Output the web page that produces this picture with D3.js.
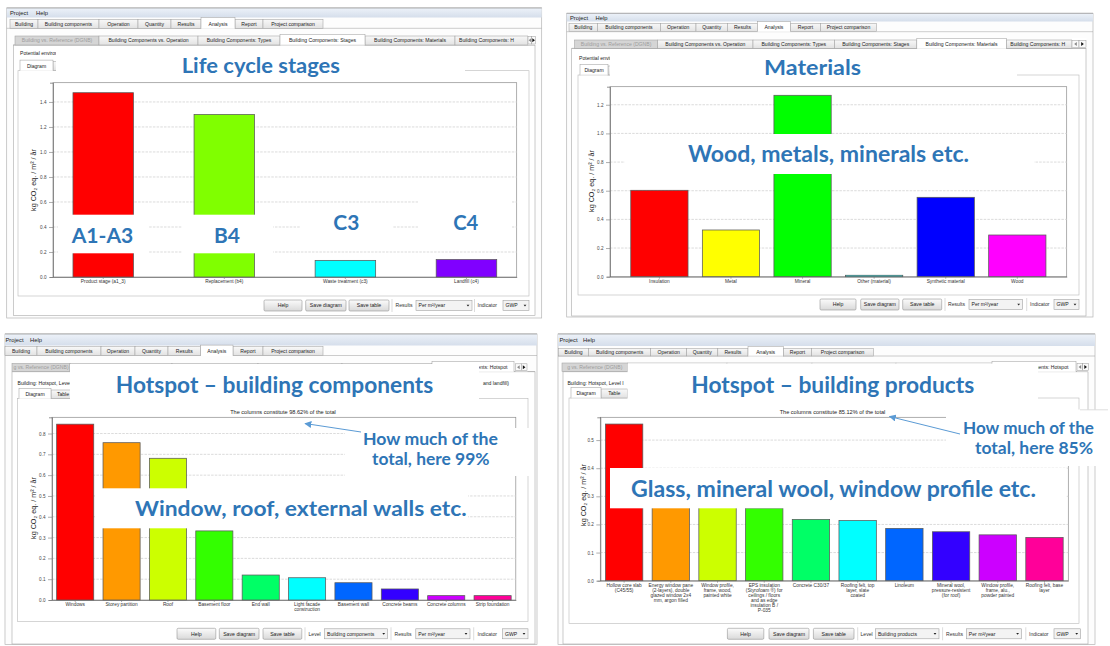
<!DOCTYPE html>
<html><head><meta charset="utf-8">
<script src="https://cdn.jsdelivr.net/npm/d3@7"></script>
<style>body{margin:0;background:#fff}svg{display:block}</style>
</head><body>
<script>
// ---------------- DATA ----------------
const stageLabels = ["Product stage (a1_3)", "Replacement (b4)", "Waste treatment (c3)", "Landfill (c4)"];
const stageValues = [1.474, 1.300, 0.133, 0.140];
const stageTicks = [0, 0.2, 0.4, 0.6, 0.8, 1.0, 1.2, 1.4];
const stageAxisMax = 1.554;

const materialLabels = ["Insulation", "Metal", "Mineral", "Other (material)", "Synthetic material", "Wood"];
const materialValues = [0.603, 0.326, 1.266, 0.010, 0.554, 0.291];
const materialTicks = [0, 0.2, 0.4, 0.6, 0.8, 1.0, 1.2];
const materialAxisMax = 1.326;

const componentLabels = ["Windows", "Storey partition", "Roof", "Basement floor", "End wall", "Light facade\nconstruction", "Basement wall", "Concrete beams", "Concrete columns", "Strip foundation"];
const componentValues = [0.845, 0.756, 0.681, 0.332, 0.120, 0.107, 0.083, 0.053, 0.021, 0.021];
const componentTicks = [0, 0.1, 0.2, 0.3, 0.4, 0.5, 0.6, 0.7, 0.8];
const componentAxisMax = 0.878;
const componentShare = "98.62%";

const productLabels = ["Hollow core slab\n(C45/55)", "Energy window pane\n(2-layers), double\nglazed window 2x4\nmm, argon filled", "Window profile,\nframe, wood,\npainted white", "EPS insulation\n(Styrofoam ®) for\nceilings / floors\nand as edge\ninsulation B /\nP-035", "Concrete C30/37", "Roofing felt, top\nlayer, slate\ncoated", "Linoleum", "Mineral wool,\npressure-resistent\n(for roof)", "Window profile,\nframe, alu.,\npowder painted", "Roofing felt, base\nlayer"];
const productValues = [0.557, 0.310, 0.280, 0.258, 0.218, 0.214, 0.186, 0.174, 0.163, 0.154];
const productTicks = [0, 0.1, 0.2, 0.3, 0.4, 0.5];
const productAxisMax = 0.581;
const productShare = "85.12%";

const mainTabs = ["Building", "Building components", "Operation", "Quantity", "Results", "Analysis", "Report", "Project comparison"];
const analysisTabsFull = ["Building vs. Reference (DGNB)", "Building Components vs. Operation", "Building Components: Types", "Building Components: Stages", "Building Components: Materials", "Building Components: H"];
const analysisTabsScrolled = ["g vs. Reference (DGNB)", "Building Components vs. Operation", "Building Components: Types", "Building Components: Stages", "Building Components: Materials", "Building Components: Hotspot"];
const yTitle = "kg CO₂ eq. / m² / år";

// ---------------- SETUP ----------------
const UI = "'Liberation Sans', Arial, sans-serif";
const OV = "Lato, 'Open Sans', sans-serif";
const BLUE = "#2E75B6";
const svg = d3.select("body").append("svg").attr("width", 1110).attr("height", 646).attr("viewBox", "0 0 1110 646");
const defs = svg.append("defs");
function lg(id, stops) {
  const g = defs.append("linearGradient").attr("id", id).attr("x1", 0).attr("y1", 0).attr("x2", 0).attr("y2", 1);
  stops.forEach(([o, c]) => g.append("stop").attr("offset", o).attr("stop-color", c));
}
lg("menuG", [[0, "#edf2f9"], [1, "#d5deeb"]]);
lg("tabG", [[0, "#f8f8f8"], [1, "#e2e2e2"]]);
lg("btnG", [[0, "#fbfbfb"], [1, "#d9d9d9"]]);
defs.append("marker").attr("id", "arr").attr("viewBox", "0 0 10 10").attr("refX", 9).attr("refY", 5)
  .attr("markerWidth", 7).attr("markerHeight", 7).attr("orient", "auto-start-reverse").attr("markerUnits", "userSpaceOnUse")
  .append("path").attr("d", "M0,0L10,5L0,10z").attr("fill", "#5B9BD5");

function txt(g, x, y, s, o = {}) {
  return g.append("text").attr("x", x).attr("y", y).text(s)
    .attr("font-family", o.ff || UI).attr("font-size", o.fs || 5.2)
    .attr("fill", o.fill || "#222").attr("text-anchor", o.anchor || "start");
}

function tabRow(g, edges, labels, y0, y1, active, disabled, fs, startIdx) {
  const order = labels.map((l, i) => i).filter(i => i !== active).concat(active >= 0 ? [active] : []);
  order.forEach(i => {
    const a = i === active, d = i === disabled;
    const x0 = edges[i], x1 = edges[i + 1];
    const t0 = a ? y0 - 1.6 : y0;
    g.append("rect").attr("x", x0).attr("y", t0).attr("width", x1 - x0).attr("height", y1 - t0)
      .attr("fill", a ? "#fff" : d ? "#d5d5d5" : "url(#tabG)").attr("stroke", "#a3a3a3").attr("stroke-width", 0.55);
    if (a) g.append("line").attr("x1", x0 + 0.3).attr("x2", x1 - 0.3).attr("y1", y1).attr("y2", y1).attr("stroke", "#fff").attr("stroke-width", 1);
    const st = i === startIdx;
    txt(g, st ? x0 + 4 : (x0 + x1) / 2, (y0 + y1) / 2 + 1.9, labels[i], { anchor: st ? "start" : "middle", fill: d ? "#9c9c9c" : "#222", fs: fs || 5.2 });
  });
}

function chrome(g, c, id) {
  g.append("rect").attr("x", c.winL).attr("y", c.winT).attr("width", c.winR - c.winL).attr("height", c.winB - c.winT)
    .attr("fill", "#fdfdfd").attr("stroke", "#b4b4b4").attr("stroke-width", 0.7);
  g.append("rect").attr("x", c.winL).attr("y", c.winT).attr("width", c.winR - c.winL).attr("height", c.menuB - c.winT)
    .attr("fill", "url(#menuG)");
  g.append("line").attr("x1", c.winL).attr("x2", c.winR).attr("y1", c.winT).attr("y2", c.winT).attr("stroke", "#8f8f8f").attr("stroke-width", 0.7);
  txt(g, c.projX, c.menuBase, "Project", { fs: 5.8 });
  txt(g, c.helpX, c.menuBase, "Help", { fs: 5.8 });
  g.append("line").attr("x1", c.winL).attr("x2", c.winR).attr("y1", c.r1[1]).attr("y2", c.r1[1]).attr("stroke", "#a3a3a3").attr("stroke-width", 0.55);
  tabRow(g, c.r1Edges, mainTabs, c.r1[0], c.r1[1], 5, -1, 5.1, -1);
  g.append("rect").attr("x", c.tw[0]).attr("y", c.tw[1]).attr("width", c.tw[2] - c.tw[0]).attr("height", c.tw[3] - c.tw[1])
    .attr("fill", "#fff").attr("stroke", "#a9a9a9").attr("stroke-width", 0.6);
  g.append("line").attr("x1", c.tw[0]).attr("x2", c.tw[2]).attr("y1", c.r2[1]).attr("y2", c.r2[1]).attr("stroke", "#a3a3a3").attr("stroke-width", 0.55);
  tabRow(g, c.r2Edges, c.r2Labels, c.r2[0], c.r2[1], c.r2Active, 0, 5.1, c.r2Start);
  // scroll arrows
  const ay0 = c.r2[0] + 0.5, ah = c.r2[1] - c.r2[0] - 1.5, aw = (c.arrX2 - c.arrX) / 2;
  g.append("rect").attr("x", c.arrX).attr("y", c.r2[0] - 1.7).attr("width", c.arrX2 - c.arrX + 0.5).attr("height", c.r2[1] - c.r2[0] + 1.4).attr("fill", "#fff");
  [0, 1].forEach(k => {
    const x0 = c.arrX + k * aw;
    g.append("rect").attr("x", x0).attr("y", ay0).attr("width", aw).attr("height", ah).attr("fill", "#fafafa").attr("stroke", "#9a9a9a").attr("stroke-width", 0.5);
    const cx = x0 + aw / 2, cy = ay0 + ah / 2;
    const p = k === 0 ? `M${cx + 1.3},${cy - 2}L${cx - 1.3},${cy}L${cx + 1.3},${cy + 2}Z` : `M${cx - 1.3},${cy - 2}L${cx + 1.3},${cy}L${cx - 1.3},${cy + 2}Z`;
    g.append("path").attr("d", p).attr("fill", k === 0 ? "#888" : "#111");
  });
  txt(g, c.infoX, c.infoY, c.infoText, { fs: 5.1 });
  if (c.infoRight) txt(g, c.infoRightX, c.infoY, c.infoRight, { fs: 5.1, anchor: "end" });
  g.append("rect").attr("x", c.pane[0]).attr("y", c.pane[1]).attr("width", c.pane[2] - c.pane[0]).attr("height", c.pane[3] - c.pane[1])
    .attr("fill", "#fff").attr("stroke", "#b9b9b9").attr("stroke-width", 0.6);
  tabRow(g, c.innerEdges, ["Diagram", "Table"], c.inner[0], c.inner[1], 0, -1, 5.1, -1);
  const [y0, y1] = c.ctrlY, ym = (y0 + y1) / 2 + 1.9;
  c.controls.forEach(it => {
    if (it.t === "btn") {
      g.append("rect").attr("x", it.x0).attr("y", y0).attr("width", it.x1 - it.x0).attr("height", y1 - y0).attr("rx", 1.2)
        .attr("fill", "url(#btnG)").attr("stroke", "#8d8d8d").attr("stroke-width", 0.55);
      txt(g, (it.x0 + it.x1) / 2, ym, it.s, { anchor: "middle", fs: 5.2 });
    } else if (it.t === "sep") {
      g.append("line").attr("x1", it.x).attr("x2", it.x).attr("y1", y0 - 1).attr("y2", y1 + 1).attr("stroke", "#c4c4c4").attr("stroke-width", 0.6);
    } else if (it.t === "lbl") {
      txt(g, it.x, ym, it.s, { fs: 5.1, fill: "#333" });
    } else if (it.t === "dd") {
      g.append("rect").attr("x", it.x0).attr("y", y0 + 0.5).attr("width", it.x1 - it.x0).attr("height", y1 - y0 - 1)
        .attr("fill", "#f3f3f3").attr("stroke", "#9c9c9c").attr("stroke-width", 0.55);
      txt(g, it.x0 + 2.5, ym, it.s, { fs: 5.1 });
      const cx = it.x1 - 4, cy = (y0 + y1) / 2;
      g.append("path").attr("d", `M${cx - 1.4},${cy - 0.8}L${cx + 1.4},${cy - 0.8}L${cx},${cy + 1}Z`).attr("fill", "#222");
    }
  });
}

function chart(g, p, labels, values, ticks, axisMax) {
  const x = d3.scaleBand().domain(labels).range([p.left, p.right]).paddingInner(p.pi).paddingOuter(p.po);
  const y = d3.scaleLinear().domain([0, axisMax]).range([p.bottom, p.top]);
  g.append("rect").attr("x", p.left).attr("y", p.top).attr("width", p.right - p.left).attr("height", p.bottom - p.top)
    .attr("fill", "#fff").attr("stroke", "#8c8c8c").attr("stroke-width", 0.7);
  g.append("g").selectAll("line").data(ticks.filter(t => t > 0)).join("line")
    .attr("x1", p.left).attr("x2", p.right).attr("y1", d => y(d)).attr("y2", d => y(d))
    .attr("stroke", "#d2d2d2").attr("stroke-width", 0.8).attr("stroke-dasharray", "2.5,1.2");
  g.append("g").selectAll("rect").data(values).join("rect")
    .attr("x", (d, i) => x(labels[i])).attr("y", d => y(d)).attr("width", x.bandwidth()).attr("height", d => y(0) - y(d))
    .attr("fill", (d, i) => d3.hsl(i * 360 / labels.length, 1, 0.5).formatHex())
    .attr("stroke", "#595959").attr("stroke-width", 0.75);
  const ya = g.append("g").attr("transform", `translate(${p.left},0)`)
    .call(d3.axisLeft(y).tickValues(ticks).tickFormat(d3.format(".1f")).tickSize(4).tickSizeOuter(3).tickPadding(2.5));
  ya.select(".domain").attr("stroke", "#666").attr("stroke-width", 0.7);
  ya.selectAll(".tick line").attr("stroke", "#777").attr("stroke-width", 0.6);
  ya.selectAll("text").attr("font-family", UI).attr("font-size", 4.6).attr("fill", "#444");
  const xa = g.append("g").attr("transform", `translate(0,${p.bottom})`)
    .call(d3.axisBottom(x).tickSize(2).tickSizeOuter(0).tickFormat(""));
  xa.select(".domain").attr("stroke", "#666").attr("stroke-width", 0.7);
  xa.selectAll(".tick line").attr("stroke", "#777").attr("stroke-width", 0.6);
  labels.forEach(l => {
    const t = g.append("text").attr("font-family", UI).attr("font-size", 4.8).attr("fill", "#333").attr("text-anchor", "middle");
    l.split("\n").forEach((s, k) => t.append("tspan").attr("x", x(l) + x.bandwidth() / 2).attr("y", p.bottom + p.lab + k * 5.1).text(s));
  });
  g.append("text").attr("transform", `translate(${p.ytx},${p.yty}) rotate(-90)`).attr("text-anchor", "middle")
    .attr("font-family", UI).attr("font-size", 7.2).attr("fill", "#222").text(yTitle);
  if (p.sub) txt(g, p.subX, p.subY, p.sub, { anchor: "middle", fs: 5.6, fill: "#222" });
}

// ---------------- LAYOUT ----------------
const panels = [
  {
    c: { winL: 6.7, winR: 541.7, winT: 8, winB: 318, menuB: 17.5, menuBase: 14.9, projX: 10, helpX: 36,
      r1: [19.3, 28.3], r1Edges: [10, 38, 99, 138, 171, 201, 235, 263, 323],
      tw: [13.3, 45, 535, 315.5], r2: [36, 45], r2Edges: [15, 99, 198, 280, 365, 455, 528], r2Labels: analysisTabsFull, r2Active: 3, r2Start: 5, arrX: 528, arrX2: 535.5,
      infoX: 20, infoY: 55.4, infoText: "Potential environmental impacts",
      pane: [18, 70.7, 529, 296], inner: [61.7, 70.7], innerEdges: [20, 53, 76],
      ctrlY: [300, 311],
      controls: [{ t: "btn", x0: 264, x1: 302, s: "Help" }, { t: "btn", x0: 305.7, x1: 346, s: "Save diagram" }, { t: "btn", x0: 349, x1: 389, s: "Save table" },
        { t: "sep", x: 392 }, { t: "lbl", x: 395.5, s: "Results" }, { t: "dd", x0: 416, x1: 472, s: "Per m²/year" }, { t: "sep", x: 474.5 },
        { t: "lbl", x: 477.5, s: "Indicator" }, { t: "dd", x0: 503, x1: 529, s: "GWP" }] },
    p: { left: 53, right: 516.7, top: 82.7, bottom: 277, pi: 0.5, po: 0.165, lab: 6.2, ytx: 36, yty: 180 },
    d: [stageLabels, stageValues, stageTicks, stageAxisMax]
  },
  {
    c: { winL: 566.7, winR: 1093, winT: 13.3, winB: 317, menuB: 21.5, menuBase: 19.5, projX: 570, helpX: 595.5,
      r1: [23.3, 31.7], r1Edges: [569, 597.5, 660.5, 696, 727.4, 757.5, 790.4, 820.5, 876.4],
      tw: [571.7, 48.3, 1086, 316], r2: [40, 48.3], r2Edges: [574.5, 657.7, 753, 834.6, 916.8, 1006.3, 1072], r2Labels: analysisTabsFull, r2Active: 4, r2Start: 5, arrX: 1072, arrX2: 1086,
      infoX: 579, infoY: 60, infoText: "Potential environmental impacts",
      pane: [578, 75, 1079, 295], inner: [66, 75], innerEdges: [580, 608, 630],
      ctrlY: [299, 310],
      controls: [{ t: "btn", x0: 820, x1: 856, s: "Help" }, { t: "btn", x0: 860.7, x1: 899, s: "Save diagram" }, { t: "btn", x0: 902.7, x1: 941.7, s: "Save table" },
        { t: "sep", x: 945 }, { t: "lbl", x: 948, s: "Results" }, { t: "dd", x0: 969, x1: 1022.7, s: "Per m²/year" }, { t: "sep", x: 1026.7 },
        { t: "lbl", x: 1030, s: "Indicator" }, { t: "dd", x0: 1054, x1: 1079, s: "GWP" }] },
    p: { left: 610, right: 1066.7, top: 86.7, bottom: 276.7, pi: 0.2, po: 0.29, lab: 6.2, ytx: 594, yty: 181 },
    d: [materialLabels, materialValues, materialTicks, materialAxisMax]
  },
  {
    c: { winL: 5, winR: 537, winT: 334, winB: 644.5, menuB: 345.5, menuBase: 342.3, projX: 5.5, helpX: 30,
      r1: [346.7, 355.5], r1Edges: [5, 37, 101, 135, 168, 200.7, 233, 263, 323],
      tw: [12, 371.7, 535, 644], r2: [363.3, 371.7], r2Edges: [12, 70, 172, 258, 342, 432, 514], r2Labels: analysisTabsScrolled, r2Active: 5, r2Start: -1, arrX: 515.5, arrX2: 527,
      infoX: 17.5, infoY: 384.8, infoText: "Building: Hotspot, Level I",
      infoRight: "and landfill)", infoRightX: 509,
      pane: [17.5, 398.3, 528, 621.7], inner: [390, 398.3], innerEdges: [19, 51, 75],
      ctrlY: [628.3, 639.3],
      controls: [{ t: "btn", x0: 177, x1: 215.8, s: "Help" }, { t: "btn", x0: 219.3, x1: 259, s: "Save diagram" }, { t: "btn", x0: 263, x1: 301.8, s: "Save table" },
        { t: "sep", x: 305 }, { t: "lbl", x: 308.5, s: "Level" }, { t: "dd", x0: 324.6, x1: 387.7, s: "Building components" }, { t: "sep", x: 391 },
        { t: "lbl", x: 394.5, s: "Results" }, { t: "dd", x0: 415.8, x1: 470, s: "Per m²/year" }, { t: "sep", x: 473.7 },
        { t: "lbl", x: 477.5, s: "Indicator" }, { t: "dd", x0: 502.5, x1: 528, s: "GWP" }] },
    p: { left: 52, right: 515.8, top: 417.3, bottom: 600, pi: 0.2, po: 0.1, lab: 5.6, ytx: 36, yty: 508,
      sub: `The columns constitute ${componentShare} of the total`, subX: 283, subY: 413.6 },
    d: [componentLabels, componentValues, componentTicks, componentAxisMax]
  },
  {
    c: { winL: 558, winR: 1095, winT: 334, winB: 644.5, menuB: 346, menuBase: 342.3, projX: 559.5, helpX: 583,
      r1: [348.3, 356], r1Edges: [558.5, 588.6, 650.6, 686.7, 717.8, 748, 783.3, 811.6, 873.6],
      tw: [563, 371.7, 1088, 644], r2: [363, 371.7], r2Edges: [562, 627.6, 727, 812, 896, 992, 1076], r2Labels: analysisTabsScrolled, r2Active: 5, r2Start: -1, arrX: 1077, arrX2: 1088.5,
      infoX: 567.4, infoY: 384.8, infoText: "Building: Hotspot, Level I",
      pane: [569, 398, 1079, 623.3], inner: [389, 398], innerEdges: [571, 601, 627.6],
      ctrlY: [628.3, 639.3],
      controls: [{ t: "btn", x0: 727.4, x1: 763.8, s: "Help" }, { t: "btn", x0: 769, x1: 809, s: "Save diagram" }, { t: "btn", x0: 813.4, x1: 854, s: "Save table" },
        { t: "sep", x: 857.7 }, { t: "lbl", x: 860.5, s: "Level" }, { t: "dd", x0: 875.4, x1: 939, s: "Building products" }, { t: "sep", x: 942.6 },
        { t: "lbl", x: 946, s: "Results" }, { t: "dd", x0: 966.3, x1: 1021.6, s: "Per m²/year" }, { t: "sep", x: 1025.8 },
        { t: "lbl", x: 1029, s: "Indicator" }, { t: "dd", x0: 1054, x1: 1080.7, s: "GWP" }] },
    p: { left: 600.3, right: 1068.3, top: 417.3, bottom: 580.7, pi: 0.2, po: 0.11, lab: 6.2, ytx: 586, yty: 495,
      sub: `The columns constitute ${productShare} of the total`, subX: 832.5, subY: 413.6 },
    d: [productLabels, productValues, productTicks, productAxisMax]
  }
];

panels.forEach((P, i) => {
  const g = svg.append("g");
  chrome(g, P.c, i);
  chart(g, P.p, ...P.d);
});

// ---------------- ANNOTATION OVERLAYS ----------------
const ov = svg.append("g");
function box(x0, y0, x1, y1) { ov.append("rect").attr("x", x0).attr("y", y0).attr("width", x1 - x0).attr("height", y1 - y0).attr("fill", "#fff"); }
function note(x, y, w, s, fs) {
  ov.append("text").attr("x", x).attr("y", y).attr("textLength", w).attr("lengthAdjust", "spacingAndGlyphs")
    .attr("font-family", OV).attr("font-weight", 700).attr("font-size", fs).attr("fill", BLUE).text(s);
}
function arrow(x0, y0, x1, y1) {
  ov.append("line").attr("x1", x0).attr("y1", y0).attr("x2", x1).attr("y2", y1).attr("stroke", "#5B9BD5").attr("stroke-width", 1).attr("marker-end", "url(#arr)");
}
// panel 1
box(56, 47, 465, 82); note(181.7, 73.3, 158.3, "Life cycle stages", 21.5);
box(58, 214.7, 148, 253.3); note(71.7, 242.7, 61.6, "A1-A3", 20);
box(182, 214.7, 273, 253.3); note(214, 242.7, 26, "B4", 20);
box(300, 205, 393, 248); note(333.3, 230, 26, "C3", 20.5);
box(418, 195, 512, 248); note(453.3, 230, 25, "C4", 20.5);
// panel 2
box(610, 52, 1017, 86); note(764, 74.5, 97, "Materials", 21.5);
box(625, 134, 1034, 174); note(688, 161.7, 281, "Wood, metals, minerals etc.", 22);
// panel 3
box(70, 364, 479, 399); note(115.8, 393.3, 317.5, "Hotspot – building components", 22.5);
box(345, 428, 532, 476);
note(363, 444.5, 135, "How much of the", 17); note(372, 465, 117.5, "total, here 99%", 17);
arrow(361, 432, 305, 423.5);
box(95, 488.3, 468, 528.3); note(135, 516, 331.7, "Window, roof, external walls etc.", 21);
// panel 4
box(627.6, 363.5, 1038, 406); note(691.3, 393.3, 283, "Hotspot – building products", 22.5);
box(946, 409.5, 1100, 466);
ov.append("line").attr("x1", 1080).attr("x2", 1108).attr("y1", 409.8).attr("y2", 409.8).attr("stroke", "#c8c8c8").attr("stroke-width", 0.6);
note(963, 433.5, 131, "How much of the", 17); note(975, 454, 118, "total, here 85%", 17);
arrow(960, 434, 889.5, 416.5);
box(610, 468, 1066.5, 508.3); note(631, 496.7, 405, "Glass, mineral wool, window profile etc.", 22);
</script>
</body></html>
